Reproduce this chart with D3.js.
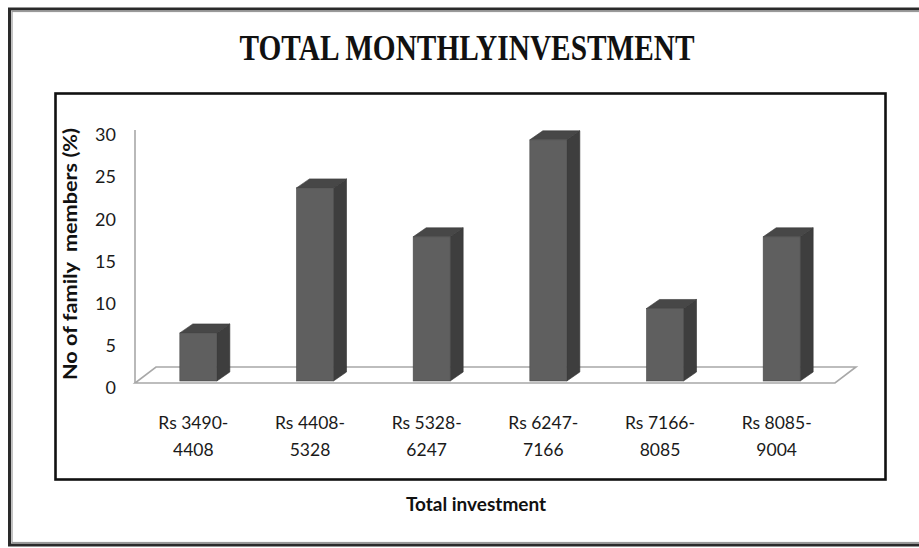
<!DOCTYPE html>
<html>
<head>
<meta charset="utf-8">
<script src="https://cdn.jsdelivr.net/npm/d3@7.9.0/dist/d3.min.js"></script>
<style>
  html, body { margin: 0; padding: 0; background: #fff; }
  svg { display: block; }
</style>
</head>
<body>
<div id="chart"></div>
<script>
// data
const categories = [
  ["Rs 3490-", "4408"],
  ["Rs 4408-", "5328"],
  ["Rs 5328-", "6247"],
  ["Rs 6247-", "7166"],
  ["Rs 7166-", "8085"],
  ["Rs 8085-", "9004"]
];
const values = [5.7, 22.9, 17.1, 28.6, 8.6, 17.1];
const yTicks = [0, 5, 10, 15, 20, 25, 30];

const titleText = "TOTAL MONTHLYINVESTMENT";
const yTitle = "No of family  members (%)";
const xTitle = "Total investment";

const W = 919, H = 548;
const sans = "Lato, 'Open Sans', sans-serif";

const svg = d3.select("#chart")
  .append("svg")
  .attr("width", W)
  .attr("height", H);

// outer frame
svg.append("rect")
  .attr("x", 9.5).attr("y", 9)
  .attr("width", 930).attr("height", 536)
  .attr("fill", "#fff")
  .attr("stroke", "#2a2a2a")
  .attr("stroke-width", 3);
svg.append("rect")
  .attr("x", 12).attr("y", 11.5)
  .attr("width", 930).attr("height", 531)
  .attr("fill", "none")
  .attr("stroke", "#9a9a9a")
  .attr("stroke-width", 1.2);

// title
svg.append("text")
  .attr("x", 467)
  .attr("y", 60)
  .attr("text-anchor", "middle")
  .attr("font-family", "'Liberation Serif', 'Times New Roman', serif")
  .attr("font-weight", "bold")
  .attr("font-size", "35px")
  .attr("textLength", 455)
  .attr("lengthAdjust", "spacingAndGlyphs")
  .attr("fill", "#111")
  .text(titleText);

// inner plot box
svg.append("rect")
  .attr("x", 55.5).attr("y", 93.5)
  .attr("width", 830).attr("height", 386)
  .attr("fill", "#fff")
  .attr("stroke", "#111")
  .attr("stroke-width", 2.6);

// scales
const floorLeft = 135, floorRight = 835;
const depthX = 21, depthY = -16;   // floor depth offset
const x = d3.scaleBand()
  .domain(d3.range(categories.length))
  .range([floorLeft, floorRight]);
const y = d3.scaleLinear()
  .domain([0, 30])
  .range([383, 130]);

// floor and wall edge
const grid = "#a8a8a8";
const floor = svg.append("g")
  .attr("fill", "none")
  .attr("stroke", grid)
  .attr("stroke-width", 1.6);
floor.append("path")
  .attr("d", `M${floorLeft},${y(0)} L${floorRight},${y(0)} L${floorRight + depthX},${y(0) + depthY} L${floorLeft + depthX},${y(0) + depthY} Z`);
floor.append("line")
  .attr("x1", floorLeft).attr("x2", floorLeft)
  .attr("y1", y(30)).attr("y2", y(0));

// y axis labels
const yAxis = svg.append("g")
  .attr("transform", `translate(${floorLeft - 19},5)`)
  .call(d3.axisLeft(y).tickValues(yTicks).tickSize(0).tickPadding(0));
yAxis.select(".domain").remove();
yAxis.selectAll("text")
  .attr("font-family", sans)
  .attr("font-size", "18px")
  .attr("fill", "#1a1a1a");

// 3D bars
const barW = 37, bdx = 13, bdy = -9, shift = 5;
const bars = svg.append("g")
  .selectAll("g")
  .data(values)
  .join("g");

bars.each(function(v, i) {
  const g = d3.select(this);
  const x0 = x(i) + x.bandwidth() / 2 + shift - barW / 2;
  const x1 = x0 + barW;
  const yb = y(0) - 2;
  const yt = y(v) - 2;
  // side face
  g.append("path")
    .attr("d", `M${x1},${yb} L${x1 + bdx},${yb + bdy} L${x1 + bdx},${yt + bdy} L${x1},${yt} Z`)
    .attr("fill", "#3e3e3e")
    .attr("stroke", "#333")
    .attr("stroke-width", 0.6);
  // top face
  g.append("path")
    .attr("d", `M${x0},${yt} L${x0 + bdx},${yt + bdy} L${x1 + bdx},${yt + bdy} L${x1},${yt} Z`)
    .attr("fill", "#474747")
    .attr("stroke", "#3a3a3a")
    .attr("stroke-width", 0.6);
  // front face
  g.append("rect")
    .attr("x", x0).attr("y", yt)
    .attr("width", barW).attr("height", yb - yt)
    .attr("fill", "#5f5f5f")
    .attr("stroke", "#4a4a4a")
    .attr("stroke-width", 0.6);
});

// category labels
const xl = svg.append("g")
  .selectAll("text")
  .data(categories)
  .join("text")
  .attr("x", (d, i) => x(i) + x.bandwidth() / 2)
  .attr("y", 429)
  .attr("text-anchor", "middle")
  .attr("font-family", sans)
  .attr("font-size", "17.5px")
  .attr("fill", "#1a1a1a");
xl.append("tspan")
  .attr("x", (d, i) => x(i) + x.bandwidth() / 2)
  .text(d => d[0]);
xl.append("tspan")
  .attr("x", (d, i) => x(i) + x.bandwidth() / 2)
  .attr("dy", 27)
  .text(d => d[1]);

// axis titles
svg.append("text")
  .attr("transform", "rotate(-90)")
  .attr("x", -254)
  .attr("y", 77)
  .attr("text-anchor", "middle")
  .attr("font-family", sans)
  .attr("font-weight", "bold")
  .attr("font-size", "19px")
  .attr("textLength", 252)
  .attr("lengthAdjust", "spacingAndGlyphs")
  .attr("fill", "#111")
  .style("white-space", "pre")
  .text(yTitle);

svg.append("text")
  .attr("x", 476)
  .attr("y", 511)
  .attr("text-anchor", "middle")
  .attr("font-family", sans)
  .attr("font-weight", "bold")
  .attr("font-size", "19px")
  .attr("fill", "#111")
  .text(xTitle);
</script>
</body>
</html>
